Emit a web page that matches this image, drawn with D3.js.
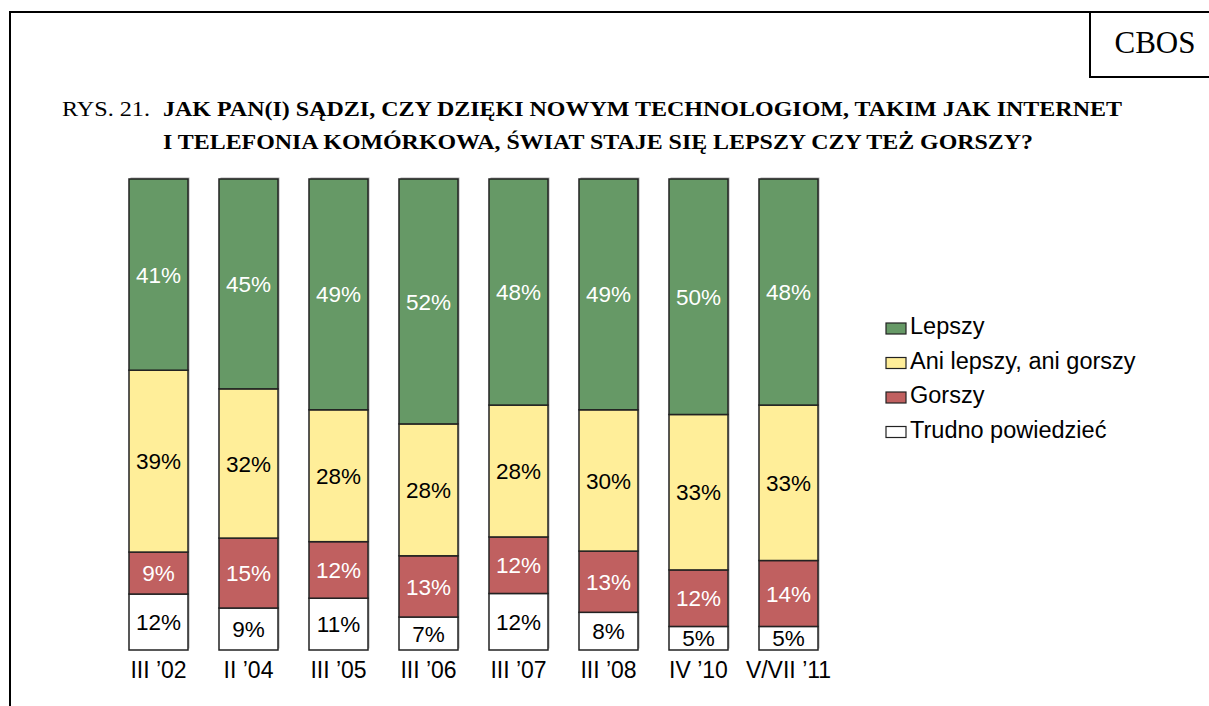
<!DOCTYPE html>
<html>
<head>
<meta charset="utf-8">
<script src="https://cdn.jsdelivr.net/npm/d3@7"></script>
<style>
  body { margin: 0; background: #fff; }
  svg text { font-family: "Liberation Sans", Arial, sans-serif; }
  .serif { font-family: "Liberation Serif", "Times New Roman", serif !important; }
</style>
</head>
<body>
<svg id="chart" width="1209" height="706"></svg>
<script>
// categories (survey waves)
const waves = ["III \u201902", "II \u201904", "III \u201905", "III \u201906", "III \u201907", "III \u201908", "IV \u201910", "V/VII \u201911"];
// series values (%)
const lepszy = [41, 45, 49, 52, 48, 49, 50, 48];
const ani = [39, 32, 28, 28, 28, 30, 33, 33];
const gorszy = [9, 15, 12, 13, 12, 13, 12, 14];
const trudno = [12, 9, 11, 7, 12, 8, 5, 5];
const seriesNames = ["Lepszy", "Ani lepszy, ani gorszy", "Gorszy", "Trudno powiedzieć"];

const colors = ["#669966", "#ffee99", "#c06060", "#ffffff"];
const textColors = ["#fff", "#000", "#fff", "#000"];

const svg = d3.select("#chart");

// frame + CBOS box
svg.append("path").attr("d", "M10,706 V12 H1209").attr("fill", "none").attr("stroke", "#000").attr("stroke-width", 2);
svg.append("path").attr("d", "M1090,12 V77 H1209").attr("fill", "none").attr("stroke", "#000").attr("stroke-width", 2);
svg.append("text").attr("class", "serif").attr("x", 1155).attr("y", 53).attr("text-anchor", "middle")
    .attr("font-size", 31).text("CBOS");

// title (glyphs stretched a bit to match the original width)
const title = svg.append("text").attr("class", "serif").attr("font-size", 21);
title.append("tspan").attr("x", 62).attr("y", 116)
    .attr("textLength", 88).attr("lengthAdjust", "spacingAndGlyphs").text("RYS. 21.");
svg.append("text").attr("class", "serif").attr("font-size", 21).attr("font-weight", "bold")
    .attr("x", 163).attr("y", 116).attr("textLength", 959).attr("lengthAdjust", "spacingAndGlyphs")
    .text("JAK PAN(I) SĄDZI, CZY DZIĘKI NOWYM TECHNOLOGIOM, TAKIM JAK INTERNET");
svg.append("text").attr("class", "serif").attr("font-size", 21).attr("font-weight", "bold")
    .attr("x", 163).attr("y", 149).attr("textLength", 870).attr("lengthAdjust", "spacingAndGlyphs")
    .text("I TELEFONIA KOMÓRKOWA, ŚWIAT STAJE SIĘ LEPSZY CZY TEŻ GORSZY?");

// data table built from arrays; stacked from bottom: trudno, gorszy, ani, lepszy
const table = waves.map((w, i) => ({ wave: w, s0: lepszy[i], s1: ani[i], s2: gorszy[i], s3: trudno[i] }));
const keys = ["s3", "s2", "s1", "s0"];
const stack = d3.stack().keys(keys).offset(d3.stackOffsetExpand);
const stacked = stack(table);

const x = d3.scaleBand().domain(waves).range([113.5, 833.5]).paddingInner(31 / 90).paddingOuter(15.5 / 90);
const y = d3.scaleLinear().domain([0, 1]).range([650, 179]);

// shadow
svg.append("g").selectAll("rect").data(table).join("rect")
    .attr("x", d => x(d.wave) + 1.5).attr("y", y(1) - 1.5)
    .attr("width", x.bandwidth()).attr("height", y(0) - y(1))
    .attr("fill", "#b0b0b0");

const layers = svg.append("g").selectAll("g").data(stacked).join("g")
    .attr("fill", s => colors[+s.key.slice(1)]);

layers.selectAll("rect").data(s => s).join("rect")
    .attr("x", d => x(d.data.wave))
    .attr("y", d => y(d[1]))
    .attr("width", x.bandwidth())
    .attr("height", d => y(d[0]) - y(d[1]))
    .attr("stroke", "#222").attr("stroke-width", 1.5);

layers.selectAll("text").data(s => s.map(d => ({ d, k: +s.key.slice(1) }))).join("text")
    .attr("x", o => x(o.d.data.wave) + x.bandwidth() / 2)
    .attr("y", o => (y(o.d[0]) + y(o.d[1])) / 2)
    .attr("dy", "0.36em")
    .attr("text-anchor", "middle")
    .attr("font-size", 22.5)
    .attr("fill", o => textColors[o.k])
    .text(o => o.d.data["s" + o.k] + "%");

// x axis labels
const xAxis = svg.append("g").attr("transform", "translate(0,650)")
    .call(d3.axisBottom(x).tickSize(0).tickPadding(12));
xAxis.select(".domain").remove();
xAxis.selectAll("text").attr("font-size", 23).attr("fill", "#000")
    .style("font-family", "'Liberation Sans', Arial, sans-serif");

// legend
const legend = svg.append("g").selectAll("g").data(seriesNames).join("g")
    .attr("transform", (d, i) => `translate(886,${334 + i * 34.5})`);
legend.append("rect").attr("x", 0).attr("y", -11).attr("width", 20).attr("height", 11)
    .attr("fill", (d, i) => colors[i]).attr("stroke", "#222").attr("stroke-width", 1.2);
legend.append("text").attr("x", 24).attr("y", 0)
    .attr("font-size", 23.5).text(d => d);
</script>
</body>
</html>
